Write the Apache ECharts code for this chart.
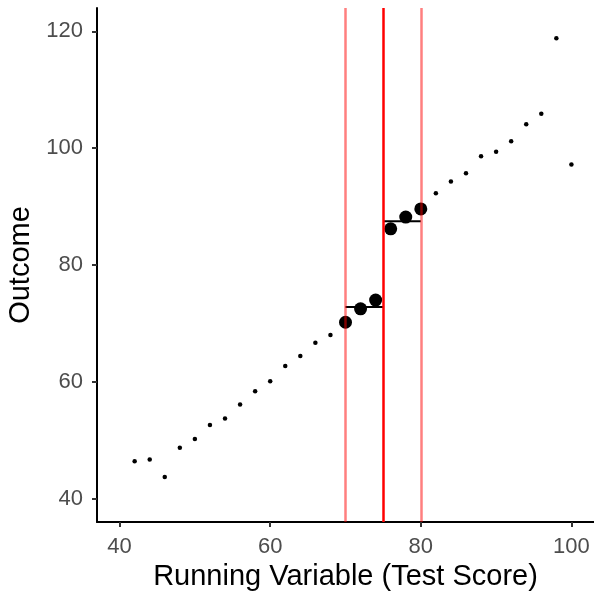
<!DOCTYPE html>
<html>
<head>
<meta charset="utf-8">
<script src="https://cdn.jsdelivr.net/npm/echarts@6/dist/echarts.min.js"></script>
<style>html,body{margin:0;padding:0;background:#fff}#c{width:594px;height:591px}</style>
</head>
<body>
<div id="c"></div>
<script>
// Small points (all bins)
var smallX = [42,44,46,48,50,52,54,56,58,60,62,64,66,68,82,84,86,88,90,92,94,96,98,100];
var smallY = [46.4,46.7,43.7,48.7,50.2,52.6,53.7,56.1,58.4,60.1,62.7,64.4,66.7,68.0,92.3,94.3,95.7,98.6,99.4,101.2,104.1,105.9,118.8,97.2];
// Large points (within bandwidth)
var bigX = [70,72,74,76,78,80];
var bigY = [70.2,72.5,74.0,86.2,88.2,89.6];
// Bin mean segments
var segStart = [70,75];
var segEnd = [75,80];
var segMean = [72.8,87.5];
// Cutoff and bandwidth lines
var cutoff = 75;
var bandwidth = [70,80];
var xTicks = [40,60,80,100];
var yTicks = [40,60,80,100,120];

var chart = echarts.init(document.getElementById('c'));
var font = 'Liberation Sans, Arial, sans-serif';
var series = [];
series.push({
  type:'scatter', symbolSize:4.5, itemStyle:{color:'#000', opacity:1},
  data: smallX.map(function(x,i){return [x, smallY[i]];}), z:3, silent:true
});
series.push({
  type:'scatter', symbolSize:13, itemStyle:{color:'#000', opacity:1},
  data: bigX.map(function(x,i){return [x, bigY[i]];}), z:3, silent:true
});
segStart.forEach(function(s,i){
  series.push({
    type:'line', symbol:'none', lineStyle:{color:'#000', width:2}, z:4, silent:true,
    data:[[s, segMean[i]],[segEnd[i], segMean[i]]]
  });
});
series.push({
  type:'line', data:[], z:5, silent:true,
  markLine:{
    silent:true, symbol:'none', label:{show:false}, animation:false,
    data: bandwidth.map(function(b){return {xAxis:b, lineStyle:{color:'rgba(255,0,0,0.5)', width:2.5, type:'solid'}};})
      .concat([{xAxis:cutoff, lineStyle:{color:'#ff0000', width:2.5, type:'solid'}}])
  }
});

chart.setOption({
  animation:false,
  grid:{left:97, right:0, top:8, bottom:69, containLabel:false, outerBoundsMode:'none'},
  xAxis:{
    type:'value', min:37, max:103,
    name:'Running Variable (Test Score)', nameLocation:'middle', nameGap:40,
    nameTextStyle:{color:'#000', fontSize:29, fontFamily:font},
    axisLine:{show:true, onZero:false, lineStyle:{color:'#000', width:2}},
    axisTick:{show:true, length:5, lineStyle:{color:'#333', width:2},
      customValues: xTicks},
    axisLabel:{color:'#4d4d4d', fontSize:22, fontFamily:font, margin:14,
      customValues: xTicks},
    splitLine:{show:false}
  },
  yAxis:{
    type:'value', min:36, max:124,
    name:'Outcome', nameLocation:'middle', nameGap:62,
    nameTextStyle:{color:'#000', fontSize:29, fontFamily:font},
    axisLine:{show:true, onZero:false, lineStyle:{color:'#000', width:2}},
    axisTick:{show:true, length:5, lineStyle:{color:'#333', width:2},
      customValues: yTicks},
    axisLabel:{color:'#4d4d4d', fontSize:22, fontFamily:font, margin:14,
      customValues: yTicks},
    splitLine:{show:false}
  },
  series: series
});
</script>
</body>
</html>
